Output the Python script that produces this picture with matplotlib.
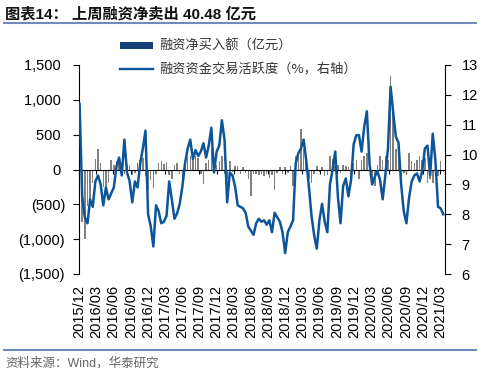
import numpy as np
import pandas as pd
import matplotlib
matplotlib.use("Agg")
import matplotlib.pyplot as plt
from matplotlib.patches import Patch
from matplotlib.lines import Line2D
from matplotlib.ticker import FuncFormatter

plt.rcParams['font.family'] = ['Liberation Sans', 'Noto Sans CJK SC', 'DejaVu Sans']

# biweekly readings from 2015-12-04
# 融资资金交易活跃度 (%, right axis)
activity = [
    11.7, 8.6, 7.9, 7.7, 8.5, 8.25, 9.1, 9.3, 9.0, 8.3,
    8.9, 8.5, 8.7, 8.9, 9.6, 9.9, 9.3, 10.5, 9.4, 9.1,
    8.4, 9.1, 8.9, 9.7, 10.2, 10.8, 8.0, 7.6, 6.92, 8.3,
    8.1, 7.7, 7.75, 7.95, 9.1, 8.5, 7.85, 8.03, 8.35, 8.93,
    9.7, 10.2, 10.5, 9.85, 10.15, 9.95, 10.1, 10.38, 9.9, 10.3,
    10.9, 9.4, 10.1, 10.3, 11.15, 10.5, 8.4, 9.4, 9.3, 8.93,
    8.3, 8.25, 8.2, 8.05, 7.59, 7.45, 7.31, 7.7, 7.85, 7.75,
    7.8, 7.65, 7.8, 7.4, 8.05, 7.9, 7.75, 7.4, 6.7, 7.4,
    7.59, 7.8, 9.7, 10.05, 10.2, 10.5, 9.8, 8.93, 7.95, 7.3,
    6.85, 7.8, 8.35, 7.75, 7.4, 9.0, 9.5, 10.1, 8.6, 7.7,
    8.95, 9.2, 8.6, 9.15, 10.35, 10.65, 10.65, 10.1, 10.93, 11.45,
    9.7, 9.0, 9.25, 9.45, 9.15, 8.5, 9.3, 10.2, 12.27, 11.4,
    10.6, 10.4, 9.0, 8.1, 7.7, 8.55, 9.1, 9.3, 9.37, 9.1,
    9.45, 10.2, 10.3, 9.3, 10.7, 9.8, 8.25, 8.2, 8.0,
]

# 融资净买入额 (亿元, left axis)
net_buy = [
    -200, -760, -1000, -520, -450, -200, 150, 290, 100, -250,
    -330, -190, 140, 60, 120, 140, 40, -60, 60, 70,
    -80, -50, 100, 140, 170, -100, -290, -150, -260, -60,
    100, 120, 80, 110, -80, -140, 60, 100, -60, -190,
    80, 180, 200, 150, 200, 170, -60, -215, 100, 140,
    290, 120, 60, 120, 190, -60, -140, 120, -40, 50,
    50, -60, 40, -50, -140, -380, -70, -60, -80, -70,
    -100, -60, -120, -80, -290, -50, 40, -60, 40, -50,
    50, -240, 200, 240, 575, 290, 140, -140, -190, -60,
    50, -40, 40, -100, -80, 190, 150, 50, 60, -50,
    60, 50, 40, -140, 100, 140, -140, 140, 200, 240,
    60, -140, -240, 60, 190, 140, 190, 140, 1340, 860,
    290, 240, -100, -50, -60, 240, 120, 100, 140, 190,
    140, 160, -190, -140, -190, 60, -100, 120, -40.48,
]

dates = pd.date_range('2015-12-04', periods=len(activity), freq='14D')

tick_labels = ['2015/12', '2016/03', '2016/06', '2016/09', '2016/12', '2017/03',
               '2017/06', '2017/09', '2017/12', '2018/03', '2018/06', '2018/09',
               '2018/12', '2019/03', '2019/06', '2019/09', '2019/12', '2020/03',
               '2020/06', '2020/09', '2020/12', '2021/03']
tick_dates = pd.to_datetime([s.replace('/', '-') + '-01' for s in tick_labels])

bar_color = '#808080'
line_color = '#0d5599'

fig = plt.figure(figsize=(4.86, 3.76), dpi=100)
ax = fig.add_axes([79/486, 1-274/376, 366/486, 209/376])

ax.bar(dates, net_buy, width=8, color=bar_color, zorder=2)
ax.set_ylim(-1500, 1500)
ax.set_yticks(range(-1500, 1501, 500))

def acct(v, pos):
    if v < 0:
        return f"({abs(v):,.0f})"
    return f"{v:,.0f} "

ax.yaxis.set_major_formatter(FuncFormatter(acct))
ax.set_xlim(pd.Timestamp('2015-12-01'), pd.Timestamp('2021-03-28'))
ax.set_xticks(tick_dates)
ax.set_xticklabels(tick_labels)
ax.spines['bottom'].set_position(('data', 0))
ax.spines['top'].set_visible(False)
ax.spines['right'].set_visible(False)
ax.tick_params(axis='x', length=3, direction='out', pad=80, labelsize=10.5,
               labelrotation=90)
ax.tick_params(axis='y', length=4, direction='out', pad=6, labelsize=10.5)

ax2 = ax.twinx()
ax2.plot(dates, activity, color=line_color, lw=1.8, zorder=3)
ax2.set_ylim(6, 13)
ax2.set_yticks(range(6, 14))
for s in ['left', 'top', 'bottom']:
    ax2.spines[s].set_visible(False)
ax2.tick_params(axis='y', length=4, direction='out', pad=8, labelsize=10.5)

handles = [Patch(facecolor='#173f7a', edgecolor='none'),
           Line2D([0], [0], color=line_color, lw=1.7)]
labels = ['融资净买入额（亿元）', '融资资金交易活跃度（%，右轴）']
fig.legend(handles, labels, loc='upper left', bbox_to_anchor=(120/486, 1-40/376),
           frameon=False, prop={'family': ['Noto Sans CJK SC'], 'size': 9.5},
           handlelength=2.5, handleheight=0.5, handletextpad=0.5,
           labelspacing=0.75, borderpad=0, borderaxespad=0,
           labelcolor='#333333')

fig.text(5/486, 1-14/376, '图表14： 上周融资净卖出 40.48 亿元', fontsize=11,
         fontweight='bold', va='center', ha='left', color='#111111')
fig.add_artist(Line2D([4/486, 476/486], [1-22.5/376]*2, color='#6d8cb8', lw=1.5))
fig.add_artist(Line2D([4/486, 476/486], [1-350/376]*2, color='#6d8cb8', lw=1.5))
fig.text(5/486, 1-363/376, '资料来源：Wind，华泰研究', fontsize=9,
         va='center', ha='left', color='#666666')

fig.savefig('out.png', dpi=100)
